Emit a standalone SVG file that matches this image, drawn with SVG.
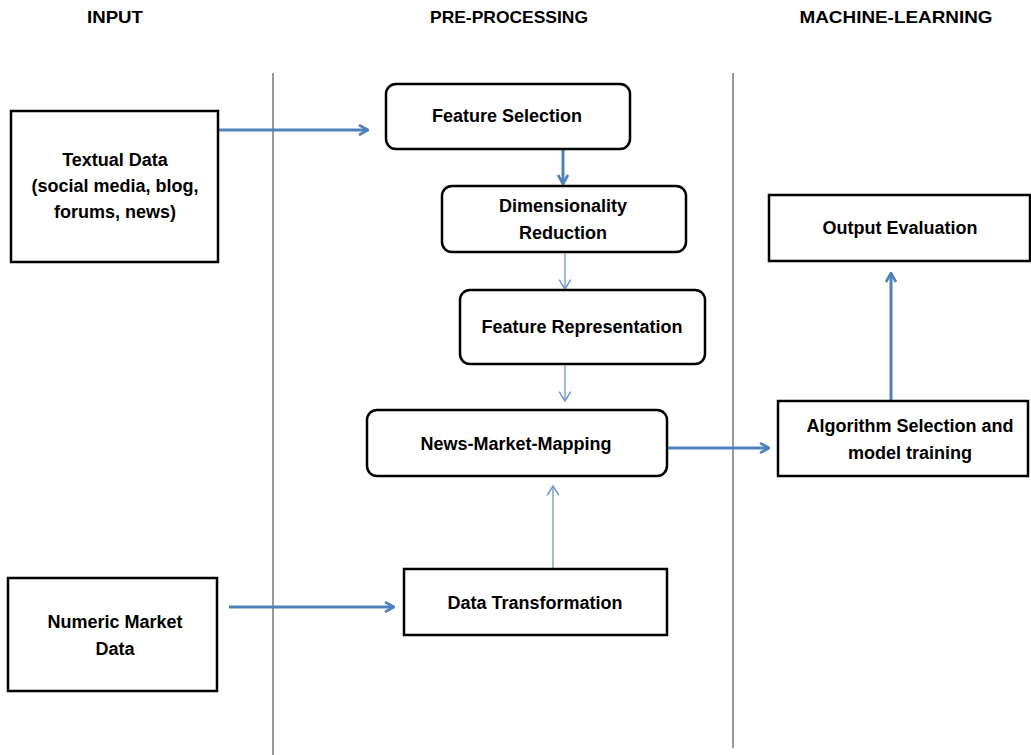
<svg xmlns="http://www.w3.org/2000/svg" width="1031" height="755" viewBox="0 0 1031 755">
<defs>
<style>
.hdr{font-family:"Liberation Sans",Arial,sans-serif;font-weight:bold;font-size:17px;text-anchor:middle;fill:#000}
.t{font-family:"Liberation Sans",Arial,sans-serif;font-weight:bold;font-size:18px;text-anchor:middle;fill:#000}
.box{fill:#fff;stroke:#000;stroke-width:2.5}
.lane{stroke:#555;stroke-width:1.2}
.thick{stroke:#4F81BD;stroke-width:3;fill:none}
.thin{stroke:#6E96CA;stroke-width:1.3;fill:none}
</style>
<marker id="ah" viewBox="0 0 12 12" refX="11" refY="6" markerWidth="12" markerHeight="12" markerUnits="userSpaceOnUse" orient="auto">
<path d="M2,1 L11,6 L2,11" fill="none" stroke="#4F81BD" stroke-width="2.6"/>
</marker>
<marker id="ahs" viewBox="0 0 12 12" refX="11" refY="6" markerWidth="14" markerHeight="14" markerUnits="userSpaceOnUse" orient="auto">
<path d="M3,1 L11,6 L3,11" fill="none" stroke="#6E96CA" stroke-width="1.3"/>
</marker>
</defs>
<rect width="1031" height="755" fill="#fff"/>
<g id="headers">
<text class="hdr" x="115" y="23" textLength="56" lengthAdjust="spacingAndGlyphs">INPUT</text>
<text class="hdr" x="509" y="23" textLength="158" lengthAdjust="spacingAndGlyphs">PRE-PROCESSING</text>
<text class="hdr" x="896" y="23" textLength="193" lengthAdjust="spacingAndGlyphs">MACHINE-LEARNING</text>
</g>
<g id="lanes">
<line class="lane" x1="273" y1="73" x2="273" y2="755"/>
<line class="lane" x1="733" y1="73" x2="733" y2="748"/>
</g>
<g id="connectors">
<line class="thick" x1="218" y1="130" x2="368" y2="130" marker-end="url(#ah)"/>
<line class="thick" x1="563" y1="149" x2="563" y2="184" marker-end="url(#ah)"/>
<line class="thin" x1="565" y1="252" x2="565" y2="289" marker-end="url(#ahs)"/>
<line class="thin" x1="565" y1="364" x2="565" y2="401" marker-end="url(#ahs)"/>
<line class="thick" x1="667" y1="448" x2="769" y2="448" marker-end="url(#ah)"/>
<line class="thick" x1="891" y1="401" x2="891" y2="273" marker-end="url(#ah)"/>
<line class="thin" x1="553" y1="569" x2="553" y2="486" marker-end="url(#ahs)"/>
<line class="thick" x1="229" y1="607" x2="394" y2="607" marker-end="url(#ah)"/>
</g>
<g id="textual-data">
<rect class="box" x="11" y="111" width="207" height="151"/>
<text class="t" x="115" y="166">Textual Data</text>
<text class="t" x="115" y="192">(social media,  blog,</text>
<text class="t" x="115" y="218">forums, news)</text>
</g>
<g id="feature-selection">
<rect class="box" x="386" y="84" width="244" height="65" rx="10"/>
<text class="t" x="507" y="122">Feature Selection</text>
</g>
<g id="dimensionality-reduction">
<rect class="box" x="442" y="186" width="244" height="66" rx="10"/>
<text class="t" x="563" y="212">Dimensionality</text>
<text class="t" x="563" y="239">Reduction</text>
</g>
<g id="feature-representation">
<rect class="box" x="460" y="290" width="245" height="74" rx="10"/>
<text class="t" x="582" y="333">Feature Representation</text>
</g>
<g id="news-market-mapping">
<rect class="box" x="367" y="410" width="300" height="66" rx="10"/>
<text class="t" x="516" y="450">News-Market-Mapping</text>
</g>
<g id="algorithm-selection">
<rect class="box" x="778" y="401" width="250" height="75"/>
<text class="t" x="910" y="432">Algorithm Selection  and</text>
<text class="t" x="910" y="459">model training</text>
</g>
<g id="output-evaluation">
<rect class="box" x="769" y="195" width="261" height="66"/>
<text class="t" x="900" y="234">Output Evaluation</text>
</g>
<g id="data-transformation">
<rect class="box" x="404" y="569" width="263" height="66"/>
<text class="t" x="535" y="609">Data Transformation</text>
</g>
<g id="numeric-market-data">
<rect class="box" x="8" y="578" width="209" height="113"/>
<text class="t" x="115" y="628">Numeric Market</text>
<text class="t" x="115" y="655">Data</text>
</g>
</svg>
